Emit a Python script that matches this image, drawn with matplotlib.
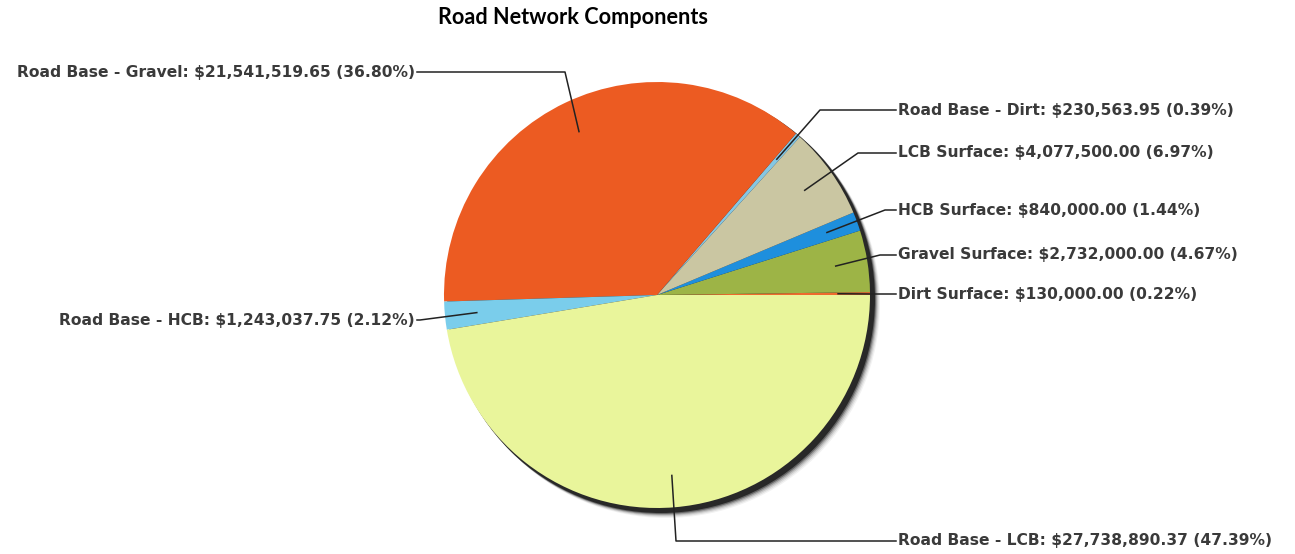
import numpy as np
import matplotlib.pyplot as plt

# data
categories = ["Dirt Surface", "Gravel Surface", "HCB Surface", "LCB Surface",
              "Road Base - Dirt", "Road Base - Gravel", "Road Base - HCB", "Road Base - LCB"]
amounts = ["$130,000.00", "$2,732,000.00", "$840,000.00", "$4,077,500.00",
           "$230,563.95", "$21,541,519.65", "$1,243,037.75", "$27,738,890.37"]
percents = [0.22, 4.67, 1.44, 6.97, 0.39, 36.80, 2.12, 47.39]
colors = ["#EE6A2E", "#9DB446", "#1E8FDD", "#CAC6A2",
          "#86C7E3", "#EC5B22", "#7ACDEB", "#E9F59B"]

# layout (pixel coords, y from top)
W, H = 1295, 554
cx, cy, R = 657, 295, 213
# label text x, y, side, elbow x
label_pos = [(898, 294, "r", 872), (898, 255, "r", 880), (898, 210, "r", 885),
             (898, 153, "r", 858), (898, 110, "r", 820), (415, 72, "l", 565),
             (415, 320, "l", 420), (898, 541, "r", 676)]

fig = plt.figure(figsize=(W / 100, H / 100), dpi=100)
ax = fig.add_axes([0, 0, 1, 1])

# shadow
for off, a in [(9, 0.05), (8, 0.08), (7, 0.12), (6, 0.2), (5, 0.35), (4, 0.6)]:
    ax.add_patch(plt.Circle((cx + off, H - cy - off), R + 1, color="black", alpha=a, lw=0))

wedges, _ = ax.pie(percents, colors=colors, startangle=0, counterclock=True,
                   radius=R, center=(cx, H - cy), frame=True,
                   wedgeprops=dict(linewidth=0))
ax.set_xlim(0, W)
ax.set_ylim(0, H)
ax.set_aspect("equal")
ax.axis("off")

for w, name, amt, pct, (tx, ty, side, ex) in zip(wedges, categories, amounts, percents, label_pos):
    mid = np.deg2rad((w.theta1 + w.theta2) / 2)
    px = cx + 0.85 * R * np.cos(mid)
    py = (H - cy) + 0.85 * R * np.sin(mid)
    ty2 = H - ty
    gap = -2 if side == "r" else 2
    ax.plot([px, ex, tx + gap], [py, ty2, ty2], color="#222222", lw=1.1)
    ax.text(tx, ty2, f"{name}: {amt} ({pct:.2f}%)",
            ha="left" if side == "r" else "right", va="center",
            fontsize=11.2, fontweight="bold", family="DejaVu Sans", color="#3a3a3a")

fig.text(573 / W, 1 - 18 / H, "Road Network Components", ha="center", va="center",
         fontsize=15.6, fontweight="bold", family="Lato", color="black")

fig.savefig("out.png", dpi=100, facecolor="white")
